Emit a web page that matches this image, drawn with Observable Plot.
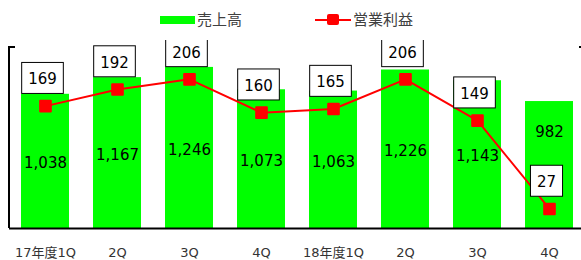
<!DOCTYPE html>
<html><head><meta charset="utf-8">
<script src="https://cdn.jsdelivr.net/npm/d3@7"></script>
<script src="https://cdn.jsdelivr.net/npm/@observablehq/plot@0.6"></script>
<style>
body{margin:0;background:#fff;overflow:hidden;width:581px;height:260px;}
#legend{position:relative;height:40px;font-family:"Noto Sans CJK JP",sans-serif;font-size:15px;color:#404040;}
#legend span{position:absolute;}
.lt{line-height:20px;top:9px;white-space:nowrap;}
#chart{width:581px;overflow:hidden;}
#chart svg{max-width:none !important;}
</style></head><body>
<div id="legend">
  <span style="left:160px;top:16px;width:35px;height:8px;background:#00ff00"></span>
  <span class="lt" style="left:197px">売上高</span>
  <span style="left:315px;top:19px;width:36px;height:2px;background:#ff0000"></span>
  <span style="left:327px;top:14px;width:12px;height:11px;background:#ff0000;border-radius:2px"></span>
  <span class="lt" style="left:353px">営業利益</span>
</div>
<div id="chart"></div>
<script>
const periods = ["17-1Q","17-2Q","17-3Q","17-4Q","18-1Q","18-2Q","18-3Q","18-4Q"];
const tickLabels = ["17年度1Q","2Q","3Q","4Q","18年度1Q","2Q","3Q","4Q"];
const sales = [1038,1167,1246,1073,1063,1226,1143,982];
const profit = [169,192,206,160,165,206,149,27];
const salesMax = 1400;
const profitMax = 250;

const ratio = salesMax / profitMax;
const data = periods.map((p,i)=>({period:p, label:tickLabels[i], sales:sales[i], profit:profit[i], last:i===periods.length-1}));
const fmt = d3.format(",");

const chart = Plot.plot({
  width: 590, height: 220,
  marginLeft: 9, marginRight: 5, marginTop: 7, marginBottom: 32,
  style: {fontFamily: '"DejaVu Sans","Noto Sans CJK JP",sans-serif', background: "#fff", maxWidth: "none"},
  x: {domain: periods, paddingInner: 1/3, paddingOuter: 1/6, axis: null, label: null},
  y: {domain: [0, salesMax], axis: null, label: null},
  marks: [
    Plot.barY(data, {x: "period", y: "sales", fill: "#00ff00"}),
    Plot.ruleY([0], {stroke: "#000", strokeWidth: 2}),
    Plot.axisX({tickSize: 0, tickPadding: 19, fontSize: 13, fill: "#333", label: null, tickFormat: (d)=>tickLabels[periods.indexOf(d)]}),
    Plot.text(data.filter(d=>!d.last), {x: "period", y: d=>d.sales/2, text: d=>fmt(d.sales), fontSize: 15, fill: "#000", dy: 2}),
    Plot.text(data.filter(d=>d.last), {x: "period", y: d=>d.sales/2, text: d=>fmt(d.sales), fontSize: 15, fill: "#000", dy: -32.5}),
    Plot.line(data, {x: "period", y: d=>d.profit*ratio, stroke: "#ff0000", strokeWidth: 2}),
    Plot.dot(data, {x: "period", y: d=>d.profit*ratio, symbol: "square", r: 6, fill: "#ff0000", stroke: "#ff0000", strokeWidth: 2, strokeLinejoin: "round"}),
    Plot.text(data, {x: "period", y: d=>d.profit*ratio, text: d=>String(d.profit), fontSize: 15, fill: "#000", dx: -3, dy: -26.5})
  ]
});

document.getElementById("chart").appendChild(chart);

// boxes behind profit labels (the last text mark)
const profitSet = new Set(profit.map(String));
const groups = Array.from(chart.querySelectorAll("g")).filter(g =>
  Array.from(g.children).some(c => c.tagName.toLowerCase() === "text") &&
  Array.from(g.children).every(c => c.tagName.toLowerCase() !== "text" || profitSet.has(c.textContent.trim()))
);
const grp = groups[groups.length - 1];
if (grp) {
  Array.from(grp.querySelectorAll("text")).forEach(function(txt){
    const b = txt.getBBox();
    const cy = b.y + b.height / 2 - 1.5;
    const r = document.createElementNS("http://www.w3.org/2000/svg", "rect");
    r.setAttribute("x", b.x - 6.5); r.setAttribute("y", cy - 15.5);
    r.setAttribute("width", b.width + 13); r.setAttribute("height", 31);
    r.setAttribute("fill", "#fff"); r.setAttribute("stroke", "#000"); r.setAttribute("stroke-width", 1);
    const t = txt.getAttribute("transform");
    if (t) r.setAttribute("transform", t);
    txt.parentNode.insertBefore(r, txt);
  });
}

// axis lines and end ticks drawn from Plot's scales
const xs = chart.scale("x"), ys = chart.scale("y");
const [x0, x1] = xs.range;
const yTop = ys.apply(salesMax), yBot = ys.apply(0);
const g = d3.select(chart).append("g").attr("stroke", "#000").attr("stroke-width", 2);
g.append("line").attr("x1", x0).attr("x2", x0).attr("y1", yTop - 1).attr("y2", yBot);
g.append("line").attr("x1", x0).attr("x2", x0 + 6).attr("y1", yTop).attr("y2", yTop);
g.append("line").attr("x1", x1).attr("x2", x1).attr("y1", yTop - 1).attr("y2", yBot);
g.append("line").attr("x1", x1 - 6).attr("x2", x1).attr("y1", yTop).attr("y2", yTop);
</script>
</body></html>
